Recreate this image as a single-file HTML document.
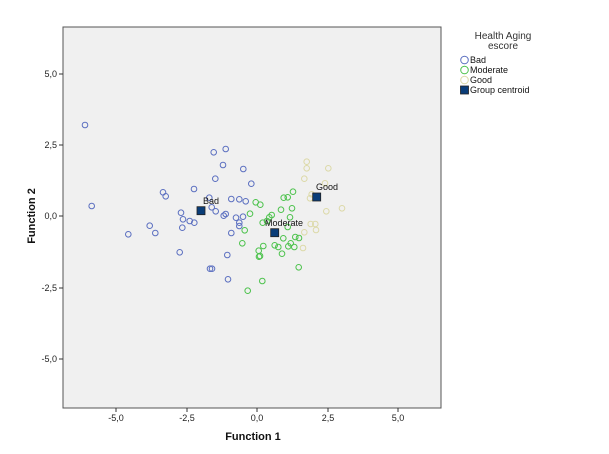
<!DOCTYPE html>
<html><head><meta charset="utf-8"><style>body{margin:0;background:#fff}svg{display:block;font-family:"Liberation Sans",Arial,sans-serif}</style></head><body>
<svg width="609" height="454" viewBox="0 0 609 454">
<rect x="63" y="27" width="378" height="381" fill="#f0f0f0" stroke="#555" stroke-width="1"/>
<g stroke="#333" stroke-width="1">
<line x1="116" y1="408" x2="116" y2="412"/><line x1="187" y1="408" x2="187" y2="412"/><line x1="257" y1="408" x2="257" y2="412"/><line x1="328" y1="408" x2="328" y2="412"/><line x1="398" y1="408" x2="398" y2="412"/>
<line x1="59" y1="74" x2="63" y2="74"/><line x1="59" y1="145" x2="63" y2="145"/><line x1="59" y1="216" x2="63" y2="216"/><line x1="59" y1="288" x2="63" y2="288"/><line x1="59" y1="359" x2="63" y2="359"/>
</g>
<g font-size="9" fill="#222" text-anchor="middle">
<text x="116" y="421">-5,0</text><text x="187" y="421">-2,5</text><text x="257" y="421">0,0</text><text x="328" y="421">2,5</text><text x="398" y="421">5,0</text>
</g>
<g font-size="9" fill="#222" text-anchor="end">
<text x="57" y="77">5,0</text><text x="57" y="148">2,5</text><text x="57" y="219">0,0</text><text x="57" y="291">-2,5</text><text x="57" y="362">-5,0</text>
</g>
<text x="253" y="440" font-size="11" font-weight="bold" text-anchor="middle" fill="#111">Function 1</text>
<text x="0" y="0" font-size="11" font-weight="bold" text-anchor="middle" fill="#111" transform="translate(35,216) rotate(-90)">Function 2</text>
<g fill="none" stroke="#5b6fc0" stroke-width="1">
<circle cx="85" cy="125" r="2.8"/><circle cx="91.7" cy="206" r="2.8"/><circle cx="128.3" cy="234.3" r="2.8"/><circle cx="149.7" cy="225.7" r="2.8"/><circle cx="155.3" cy="233" r="2.8"/><circle cx="163" cy="192.3" r="2.8"/><circle cx="165.7" cy="196.3" r="2.8"/><circle cx="179.7" cy="252.3" r="2.8"/><circle cx="181" cy="212.7" r="2.8"/><circle cx="183" cy="219.3" r="2.8"/><circle cx="182.3" cy="227.7" r="2.8"/><circle cx="189.7" cy="221" r="2.8"/><circle cx="194.3" cy="222.7" r="2.8"/><circle cx="194" cy="189" r="2.8"/><circle cx="209.3" cy="197.7" r="2.8"/><circle cx="211.7" cy="207.3" r="2.8"/><circle cx="215.7" cy="211.3" r="2.8"/><circle cx="213.7" cy="152.3" r="2.8"/><circle cx="225.7" cy="149" r="2.8"/><circle cx="223" cy="165" r="2.8"/><circle cx="215.3" cy="178.7" r="2.8"/><circle cx="210" cy="268.7" r="2.8"/><circle cx="212" cy="268.7" r="2.8"/><circle cx="228" cy="279.3" r="2.8"/><circle cx="227.3" cy="255" r="2.8"/><circle cx="231.3" cy="199" r="2.8"/><circle cx="231.3" cy="233" r="2.8"/><circle cx="223.7" cy="215.7" r="2.8"/><circle cx="225.7" cy="214" r="2.8"/><circle cx="236" cy="217.7" r="2.8"/><circle cx="239.3" cy="199.3" r="2.8"/><circle cx="239.3" cy="222.7" r="2.8"/><circle cx="239.3" cy="226" r="2.8"/><circle cx="243" cy="216.7" r="2.8"/><circle cx="245.7" cy="201.3" r="2.8"/><circle cx="243.3" cy="169" r="2.8"/><circle cx="251.3" cy="183.7" r="2.8"/>
</g>
<g fill="none" stroke="#4cc24c" stroke-width="1">
<circle cx="242.3" cy="243.3" r="2.8"/><circle cx="244.7" cy="230.3" r="2.8"/><circle cx="247.7" cy="290.7" r="2.8"/><circle cx="250" cy="213.7" r="2.8"/><circle cx="255.7" cy="202.3" r="2.8"/><circle cx="260.3" cy="204.7" r="2.8"/><circle cx="258.7" cy="250.7" r="2.8"/><circle cx="259" cy="256.7" r="2.8"/><circle cx="260" cy="256" r="2.8"/><circle cx="262.3" cy="281" r="2.8"/><circle cx="263.3" cy="246" r="2.8"/><circle cx="262.7" cy="222.7" r="2.8"/><circle cx="267" cy="221" r="2.8"/><circle cx="269.3" cy="217.3" r="2.8"/><circle cx="271.7" cy="215" r="2.8"/><circle cx="274.7" cy="245.3" r="2.8"/><circle cx="278.3" cy="247" r="2.8"/><circle cx="282" cy="253.7" r="2.8"/><circle cx="281" cy="209.7" r="2.8"/><circle cx="283.3" cy="238.3" r="2.8"/><circle cx="283.7" cy="197.7" r="2.8"/><circle cx="287.7" cy="197.3" r="2.8"/><circle cx="287.7" cy="227" r="2.8"/><circle cx="290" cy="217.3" r="2.8"/><circle cx="292" cy="208.3" r="2.8"/><circle cx="293" cy="191.7" r="2.8"/><circle cx="290.7" cy="243.3" r="2.8"/><circle cx="288.3" cy="246.3" r="2.8"/><circle cx="294.3" cy="247" r="2.8"/><circle cx="295.3" cy="237" r="2.8"/><circle cx="299" cy="238" r="2.8"/><circle cx="298.7" cy="267.3" r="2.8"/>
</g>
<g fill="none" stroke="#dcd9a8" stroke-width="1">
<circle cx="306.7" cy="161.7" r="2.8"/><circle cx="306.7" cy="168.3" r="2.8"/><circle cx="304.3" cy="178.7" r="2.8"/><circle cx="328.3" cy="168.3" r="2.8"/><circle cx="325" cy="183.3" r="2.8"/><circle cx="310" cy="198.3" r="2.8"/><circle cx="311.7" cy="194.3" r="2.8"/><circle cx="326.3" cy="211.3" r="2.8"/><circle cx="310.7" cy="224" r="2.8"/><circle cx="315.3" cy="224" r="2.8"/><circle cx="316" cy="230" r="2.8"/><circle cx="304.3" cy="232.3" r="2.8"/><circle cx="303" cy="248" r="2.8"/><circle cx="342" cy="208.3" r="2.8"/>
</g>
<g fill="#0a3d78" stroke="#222" stroke-width="0.8">
<rect x="197" y="206.7" width="8" height="8"/><rect x="270.7" y="228.7" width="8" height="8"/><rect x="312.7" y="193" width="8" height="8"/>
</g>
<g font-size="9" fill="#111" text-anchor="middle">
<text x="211" y="204">Bad</text><text x="284" y="226">Moderate</text><text x="327" y="190">Good</text>
</g>
<g font-size="10" fill="#333" text-anchor="middle">
<text x="503" y="39">Health Aging</text><text x="503" y="49">escore</text>
</g>
<g font-size="9" fill="#111">
<circle cx="464.5" cy="60" r="3.8" fill="none" stroke="#5b6fc0"/><text x="470" y="63">Bad</text>
<circle cx="464.5" cy="70" r="3.8" fill="none" stroke="#4cc24c"/><text x="470" y="73">Moderate</text>
<circle cx="464.5" cy="80" r="3.8" fill="none" stroke="#dcd9a8"/><text x="470" y="83">Good</text>
<rect x="460.5" y="86" width="8" height="8" fill="#0a3d78" stroke="#222" stroke-width="0.8"/><text x="470" y="93">Group centroid</text>
</g>
</svg>
</body></html>
